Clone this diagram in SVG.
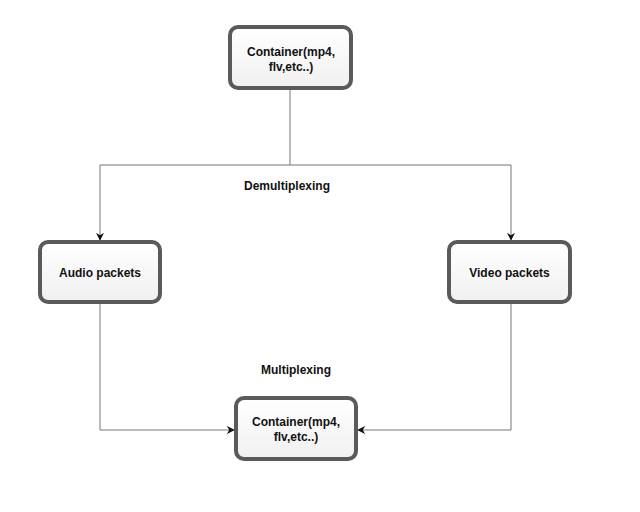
<svg xmlns="http://www.w3.org/2000/svg" width="640" height="512" viewBox="0 0 640 512">
<style>
.box{fill:url(#g);stroke:#5a5a5a;stroke-width:4}
.t{font-family:"Liberation Sans",Arial,sans-serif;font-size:12px;font-weight:bold;fill:#111;text-anchor:middle}
.c{fill:none;stroke:#777;stroke-width:1}
</style>
<defs>
<linearGradient id="g" x1="0" y1="0" x2="0" y2="1"><stop offset="0" stop-color="#ffffff"/><stop offset="1" stop-color="#f0f0f0"/></linearGradient>
<marker id="a" viewBox="0 0 10 10" refX="9" refY="5" markerWidth="8" markerHeight="8" orient="auto" markerUnits="userSpaceOnUse"><path d="M0,0 L10,5 L0,10 L3,5 Z" fill="#111"/></marker>
</defs>
<rect width="640" height="512" fill="#fff"/>
<g id="connectors">
<path class="c" d="M290,88 V165 H100 V240" marker-end="url(#a)"/>
<path class="c" d="M290,165 H511 V240" marker-end="url(#a)"/>
<path class="c" d="M100,303 V430 H234" marker-end="url(#a)"/>
<path class="c" d="M511,303 V430 H358" marker-end="url(#a)"/>
<text class="t" x="287" y="190">Demultiplexing</text>
<text class="t" x="296" y="374">Multiplexing</text>
</g>
<g id="top"><rect class="box" x="230" y="27" width="121" height="61" rx="8"/><text class="t" x="291" y="56">Container(mp4,</text><text class="t" x="291" y="71">flv,etc..)</text></g>
<g id="audio"><rect class="box" x="40" y="242" width="120" height="60" rx="8"/><text class="t" x="100" y="277">Audio packets</text></g>
<g id="video"><rect class="box" x="449" y="242" width="121" height="60" rx="8"/><text class="t" x="509.5" y="277">Video packets</text></g>
<g id="bottom"><rect class="box" x="236" y="398" width="120" height="61" rx="8"/><text class="t" x="296" y="426">Container(mp4,</text><text class="t" x="296" y="441">flv,etc..)</text></g>
</svg>
